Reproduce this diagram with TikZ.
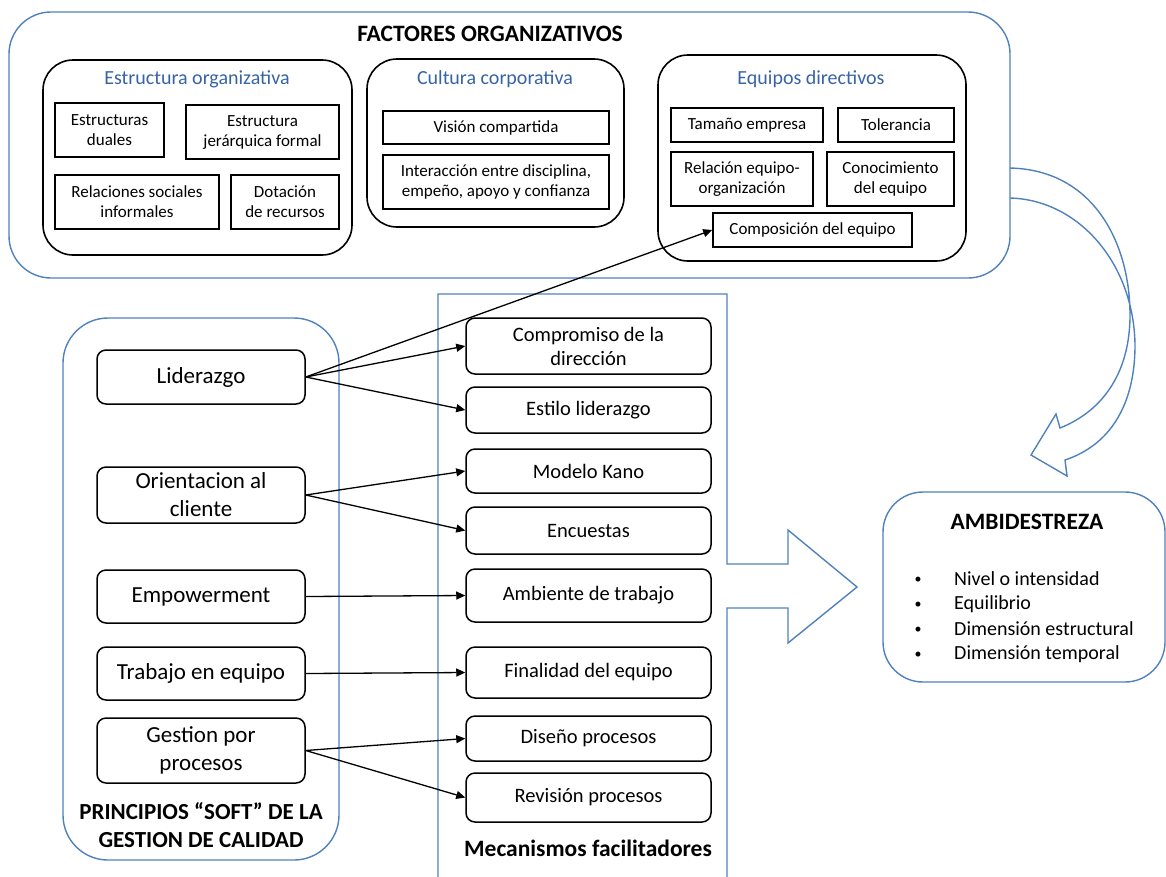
\documentclass[tikz,border=0pt]{standalone}
\usepackage{fontspec}
\setmainfont{Carlito}
\usetikzlibrary{arrows.meta}
\definecolor{bl}{RGB}{79,129,189}
\definecolor{tblue}{RGB}{55,100,165}
\newcommand\fsz[2]{\fontsize{#1}{#2}\selectfont}
\begin{document}
\begin{tikzpicture}[x=1pt,y=-1pt,
  bluegrp/.style={draw=bl, line width=1.4pt, fill=white, inner sep=0pt},
  grp/.style={draw=black, line width=1.6pt, inner sep=0pt, rounded corners=30pt},
  fbox/.style={draw=black, line width=1.5pt, inner sep=0pt, align=center, font=\fsz{17}{20}},
  rbox/.style={draw=black, line width=1.5pt, inner sep=0pt, align=center, rounded corners=9pt},
  lbox/.style={rbox, minimum width=208pt, font=\fsz{23}{28}},
  mbox/.style={rbox, minimum width=245pt, font=\fsz{20.5}{24}},
  gtitle/.style={text=tblue, font=\fsz{20}{24}, inner sep=0pt},
  btitle/.style={font=\fsz{23.5}{28}\bfseries, align=center, inner sep=0pt},
  item/.style={font=\fsz{20}{24}, anchor=west, inner sep=0pt},
  bul/.style={font=\fsz{14}{24}, inner sep=0pt},
  arr/.style={-{Triangle[length=9pt,width=8pt]}, line width=1.3pt},
  bigarrow/.style={draw=bl, line width=1.4pt, line join=miter}
]
\useasboundingbox (0,0) rectangle (1166,876);

% ---------------- FACTORES ORGANIZATIVOS ----------------
\node[bluegrp, rounded corners=42pt, minimum width=1001pt, minimum height=266pt] (fo) at (509.5,145) {};
\node[btitle] (fot) at (490,34) {FACTORES ORGANIZATIVOS};

% Estructura organizativa
\node[grp, minimum width=309pt, minimum height=195pt] (eo) at (197.5,157.5) {};
\node[gtitle] (eot) at (197,79) {Estructura organizativa};
\node[fbox, minimum width=109pt, minimum height=54pt] (ed) at (109.5,130) {Estructuras\\duales};
\node[fbox, minimum width=153pt, minimum height=54pt] (ejf) at (262.5,132) {Estructura\\jerárquica formal};
\node[fbox, minimum width=164pt, minimum height=54pt] (rsi) at (137,202) {Relaciones sociales\\informales};
\node[fbox, minimum width=108pt, minimum height=54pt] (dr) at (285,202) {Dotación\\de recursos};

% Cultura corporativa
\node[grp, minimum width=257pt, minimum height=168pt] (cc) at (495.5,143) {};
\node[gtitle] (cct) at (495,79) {Cultura corporativa};
\node[fbox, minimum width=226pt, minimum height=33pt] (vc) at (496,127.5) {Visión compartida};
\node[fbox, minimum width=226pt, minimum height=54pt] (ied) at (496,182) {Interacción entre disciplina,\\empeño, apoyo y confianza};

% Equipos directivos
\node[grp, minimum width=308pt, minimum height=206pt] (ed2) at (812,158) {};
\node[gtitle] (edt) at (811,79) {Equipos directivos};
\node[fbox, minimum width=152pt, minimum height=34pt] (te) at (747,125) {Tamaño empresa};
\node[fbox, minimum width=116pt, minimum height=34pt] (tol) at (896,125) {Tolerancia};
\node[fbox, minimum width=142pt, minimum height=54pt] (reo) at (742,179) {Relación equipo-\\organización};
\node[fbox, minimum width=127pt, minimum height=54pt] (cde) at (890.5,179) {Conocimiento\\del equipo};
\node[fbox, minimum width=199pt, minimum height=34pt] (comp) at (812.5,230) {Composición del equipo};

% curved arrow from FACTORES to AMBIDESTREZA
\draw[draw=bl, line width=1.4pt, line join=miter]
  (1010,168) .. controls (1095,170) and (1130,245) .. (1130,315)
  .. controls (1130,370) and (1105,410) .. (1060,428)
  -- (1056,414) -- (1031,455) -- (1067,476) -- (1065,460)
  .. controls (1110,445) and (1135,405) .. (1135,345)
  .. controls (1134,265) and (1080,200) .. (1010,198);

% ---------------- Mecanismos facilitadores (block arrow) ----------------
\draw[bigarrow] (438,890) -- (438,294) -- (727,294) -- (727,564) -- (788,564) -- (788,530)
  -- (857,587) -- (788,643) -- (788,608) -- (727,608) -- (727,890);

\node[mbox, minimum height=56pt] (cdd) at (588.5,346) {Compromiso de la\\dirección};
\node[mbox, minimum height=46pt] (el) at (588.5,410) {Estilo liderazgo};
\node[mbox, minimum height=44pt] (mk) at (588.5,471) {Modelo Kano};
\node[mbox, minimum height=47pt] (enc) at (588.5,530.5) {Encuestas};
\node[mbox, minimum height=53pt] (adt) at (588.5,595.5) {Ambiente de trabajo};
\node[mbox, minimum height=51pt] (fde) at (588.5,672.5) {Finalidad del equipo};
\node[mbox, minimum height=45pt] (dp) at (588.5,738.5) {Diseño procesos};
\node[mbox, minimum height=49pt] (rp) at (588.5,797.5) {Revisión procesos};
\node[btitle] (mft) at (588,848) {Mecanismos facilitadores};

% ---------------- PRINCIPIOS SOFT ----------------
\node[bluegrp, fill=none, rounded corners=45pt, minimum width=276pt, minimum height=542pt] (ps) at (201,589) {};
\node[lbox, minimum height=54pt] (lid) at (201,377) {Liderazgo};
\node[lbox, minimum height=56pt] (ori) at (201,495) {Orientacion al\\cliente};
\node[lbox, minimum height=53pt] (emp) at (201,596.5) {Empowerment};
\node[lbox, minimum height=53pt] (tra) at (201,673.5) {Trabajo en equipo};
\node[lbox, minimum height=65pt] (ges) at (201,750.5) {Gestion por\\procesos};
\node[btitle, font=\fsz{23}{28}\bfseries] (pst) at (201,825.5) {PRINCIPIOS “SOFT” DE LA\\GESTION DE CALIDAD};

% ---------------- AMBIDESTREZA ----------------
\node[bluegrp, rounded corners=40pt, minimum width=282pt, minimum height=190pt] (amb) at (1024,587) {};
\node[btitle] (ambt) at (1027,522) {AMBIDESTREZA};
\node[bul] (b1) at (918,580) {•};
\node[bul] (b2) at (918,605) {•};
\node[bul] (b3) at (918,630) {•};
\node[bul] (b4) at (918,655) {•};
\node[item] (i1) at (954,579) {Nivel o intensidad};
\node[item] (i2) at (954,604) {Equilibrio};
\node[item] (i3) at (954,629) {Dimensión estructural};
\node[item] (i4) at (954,654) {Dimensión temporal};

% ---------------- connectors ----------------
\draw[arr] (lid.east) -- (cdd.west);
\draw[arr] (lid.east) -- (el.west);
\draw[arr] (lid.east) -- (comp.west);
\draw[arr] (ori.east) -- (mk.west);
\draw[arr] (ori.east) -- (enc.west);
\draw[arr] (emp.east) -- (adt.west);
\draw[arr] (tra.east) -- (fde.west);
\draw[arr] (ges.east) -- (dp.west);
\draw[arr] (ges.east) -- (rp.west);
\end{tikzpicture}
\end{document}
